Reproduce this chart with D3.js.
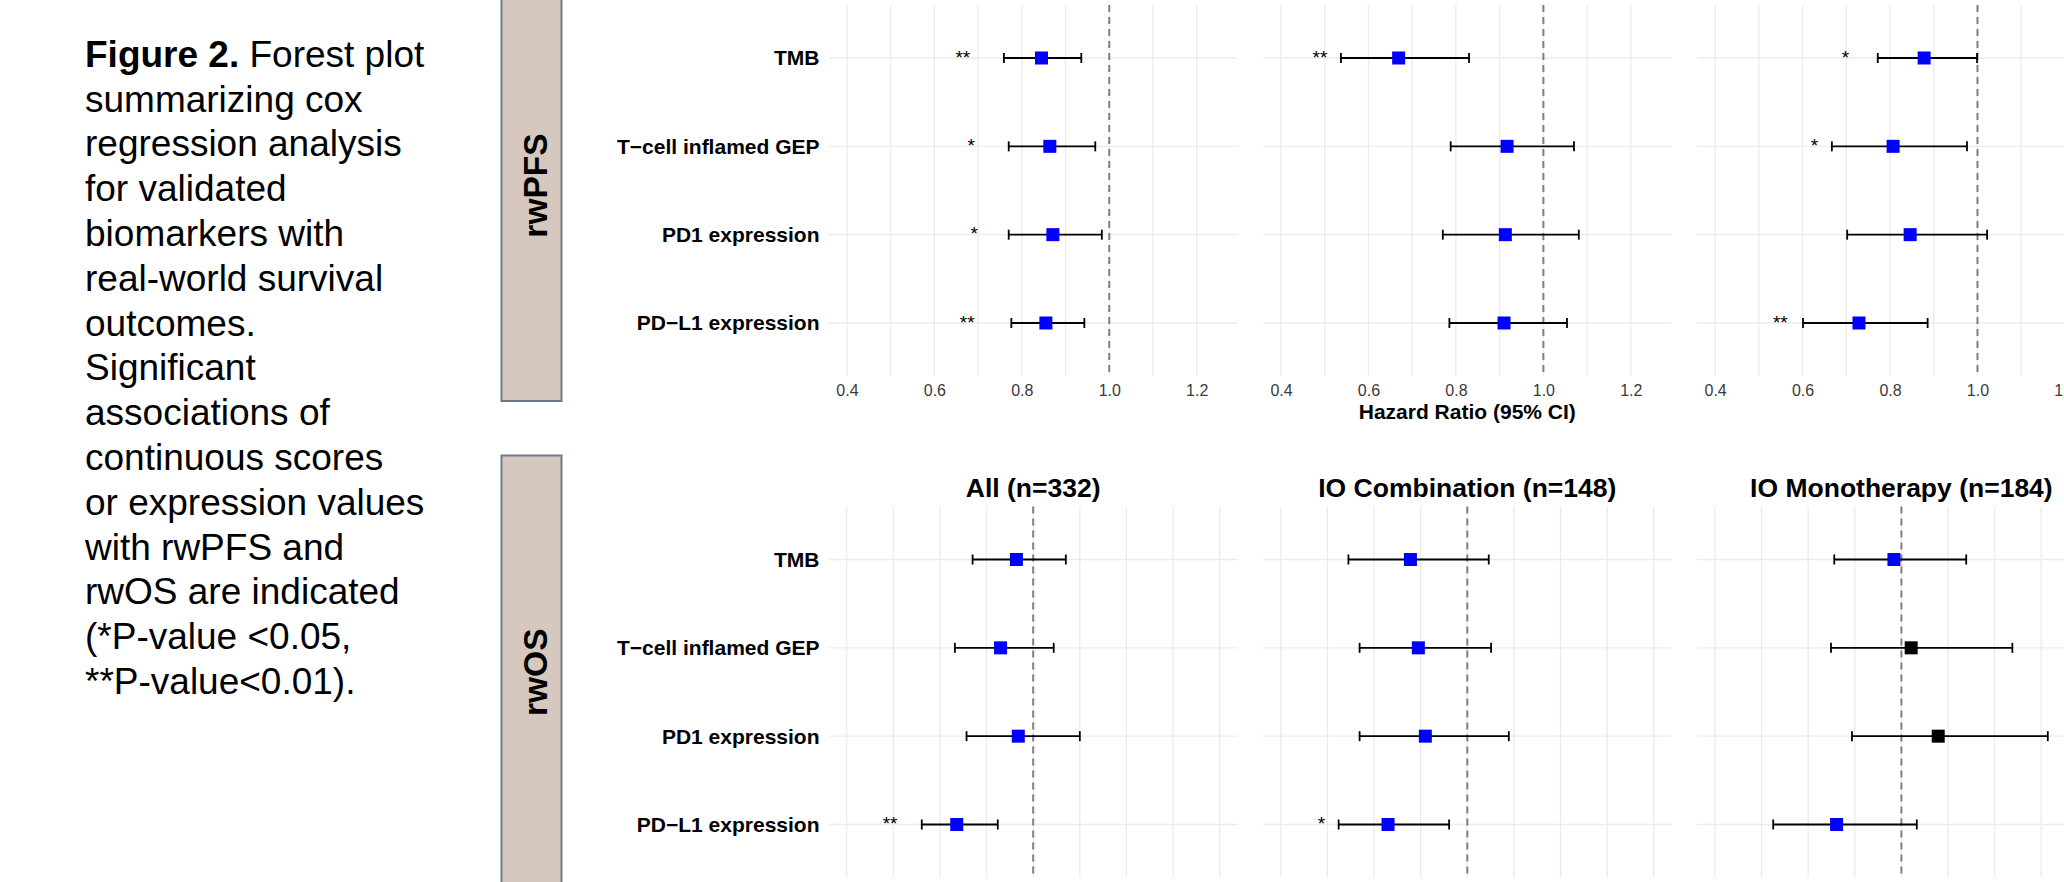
<!DOCTYPE html>
<html><head><meta charset="utf-8">
<script src="https://cdn.jsdelivr.net/npm/d3@7"></script>
<style>
html,body{margin:0;padding:0;background:#fff;}
svg{display:block;font-family:"Liberation Sans",Arial,Helvetica,sans-serif;}
</style></head><body>
<svg id="chart" width="2064" height="882"></svg>
<script>
// ---------------- data ----------------
const categories = ["TMB", "T\u2212cell inflamed GEP", "PD1 expression", "PD\u2212L1 expression"];
const panels = ["All (n=332)", "IO Combination (n=148)", "IO Monotherapy (n=184)"];
const outcomes = ["rwPFS", "rwOS"];
const xTickLabels = ["0.4", "0.6", "0.8", "1.0", "1.2"];
const xAxisTitle = "Hazard Ratio (95% CI)";

// rwPFS: [panel][category]
const pfsHR    = [[0.845, 0.864, 0.871, 0.855], [0.669, 0.917, 0.913, 0.910], [0.878, 0.807, 0.846, 0.729]];
const pfsLower = [[0.759, 0.770, 0.770, 0.776], [0.537, 0.788, 0.770, 0.785], [0.772, 0.667, 0.702, 0.601]];
const pfsUpper = [[0.936, 0.968, 0.983, 0.943], [0.830, 1.070, 1.081, 1.054], [0.999, 0.976, 1.022, 0.886]];
const pfsSig   = [["**", "*", "*", "**"], ["**", "", "", ""], ["*", "*", "", "**"]];

// rwOS: [panel][category]
const osHR    = [[0.964, 0.930, 0.968, 0.836], [0.878, 0.895, 0.910, 0.830], [0.984, 1.021, 1.079, 0.861]];
const osLower = [[0.870, 0.832, 0.857, 0.761], [0.745, 0.769, 0.769, 0.724], [0.856, 0.849, 0.894, 0.725]];
const osUpper = [[1.070, 1.044, 1.100, 0.924], [1.046, 1.051, 1.089, 0.961], [1.139, 1.238, 1.314, 1.033]];
const osSig   = [["", "", "", "**"], ["", "", "", "*"], ["", "", "", ""]];

const captionLines = [
  "summarizing cox", "regression analysis", "for validated", "biomarkers with",
  "real-world survival", "outcomes.", "Significant", "associations of",
  "continuous scores", "or expression values", "with rwPFS and",
  "rwOS are indicated", "(*P-value <0.05,", "**P-value<0.01)."
];

// ---------------- layout ----------------
const svg = d3.select("#chart");
const FONT = '"Liberation Sans", Arial, Helvetica, sans-serif';
const panelLeft0 = 829, panelPitch = 434.1, panelW = 408.4;
const rowsY = [[5, 376], [506.5, 877.5]];
const xDomains = [[0.359, 1.293], [0.562, 1.438]];
const starOffset = [0.18, 0.143];
const stripY = [[-30, 401], [455.5, 889]];

const groups = [
  {hr: pfsHR, lo: pfsLower, hi: pfsUpper, sig: pfsSig},
  {hr: osHR, lo: osLower, hi: osUpper, sig: osSig}
];

// caption
const cap = svg.append("text").attr("x", 85).attr("y", 66.7)
  .attr("font-size", 37).attr("fill", "#000").style("font-family", FONT);
cap.append("tspan").attr("font-weight", "bold").text("Figure 2.");
cap.append("tspan").text(" Forest plot");
captionLines.forEach((l, i) => {
  svg.append("text").attr("x", 85).attr("y", 66.7 + 44.8 * (i + 1))
    .attr("font-size", 37).attr("fill", "#000").style("font-family", FONT).text(l);
});

groups.forEach((g, gi) => {
  const [y0, y1] = rowsY[gi];
  const y = d3.scalePoint().domain(categories).range([y0, y1]).padding(0.6);

  // strip
  svg.append("rect").attr("x", 501.5).attr("y", stripY[gi][0])
    .attr("width", 60).attr("height", stripY[gi][1] - stripY[gi][0])
    .attr("fill", "#d6c8bf").attr("stroke", "#6d7a8c").attr("stroke-width", 2);
  const sc = (stripY[gi][0] + stripY[gi][1]) / 2;
  svg.append("text").attr("transform", `translate(546.5,${sc}) rotate(-90)`)
    .attr("text-anchor", "middle").attr("font-size", 33.5).attr("font-weight", "bold")
    .style("font-family", FONT).attr("fill", "#000").text(outcomes[gi]);

  // row labels
  categories.forEach(c => {
    svg.append("text").attr("x", 819.5).attr("y", y(c)).attr("dy", "0.35em")
      .attr("text-anchor", "end").attr("font-size", 21).attr("font-weight", "bold")
      .style("font-family", FONT).attr("fill", "#000").text(c);
  });

  panels.forEach((p, pi) => {
    const left = panelLeft0 + pi * panelPitch;
    const x = d3.scaleLinear().domain(xDomains[gi]).range([left, left + panelW]);
    const pg = svg.append("g");

    // grid
    pg.selectAll(".vg").data(x.ticks(10)).join("line")
      .attr("x1", d => x(d)).attr("x2", d => x(d)).attr("y1", y0).attr("y2", y1)
      .attr("stroke", "#ebebeb").attr("stroke-width", 1.3);
    pg.selectAll(".hg").data(categories).join("line")
      .attr("x1", left).attr("x2", left + panelW).attr("y1", d => y(d)).attr("y2", d => y(d))
      .attr("stroke", "#ebebeb").attr("stroke-width", 1.3);

    // reference line
    pg.append("line").attr("x1", x(1)).attr("x2", x(1)).attr("y1", y0).attr("y2", y1)
      .attr("stroke", "#7f7f7f").attr("stroke-width", 2).attr("stroke-dasharray", "7,5");

    const rows = categories.map((c, ci) => ({
      c, hr: g.hr[pi][ci], lo: g.lo[pi][ci], hi: g.hi[pi][ci], sig: g.sig[pi][ci]
    }));

    // error bars
    pg.selectAll(".eb").data(rows).join("line")
      .attr("x1", d => x(d.lo)).attr("x2", d => x(d.hi))
      .attr("y1", d => y(d.c)).attr("y2", d => y(d.c))
      .attr("stroke", "#000").attr("stroke-width", 1.8);
    ["lo", "hi"].forEach(k => {
      pg.selectAll(".cap" + k).data(rows).join("line")
        .attr("x1", d => x(d[k])).attr("x2", d => x(d[k]))
        .attr("y1", d => y(d.c) - 5).attr("y2", d => y(d.c) + 5)
        .attr("stroke", "#000").attr("stroke-width", 1.8);
    });

    // points
    pg.selectAll(".pt").data(rows).join("rect")
      .attr("x", d => x(d.hr) - 6.5).attr("y", d => y(d.c) - 6.5)
      .attr("width", 13).attr("height", 13)
      .attr("fill", d => d.hr < 1 ? "#0000ff" : "#000000");

    // significance
    pg.selectAll(".sg").data(rows.filter(d => d.sig)).join("text")
      .attr("x", d => x(d.hr - starOffset[gi])).attr("y", d => y(d.c) + 5.5)
      .attr("text-anchor", "middle").attr("font-size", 19)
      .style("font-family", FONT).attr("fill", "#000").text(d => d.sig);

    if (gi === 0) {
      const ax = pg.append("g").attr("transform", `translate(0,${y1})`)
        .call(d3.axisBottom(x).tickValues(xTickLabels.map(Number))
          .tickFormat((d, i) => xTickLabels[i]).tickSize(0).tickPadding(9));
      ax.select(".domain").remove();
      ax.selectAll("text").attr("font-size", 16).style("font-family", FONT).attr("fill", "#3a3a3a");
      if (pi === 1) {
        pg.append("text").attr("x", left + panelW / 2).attr("y", 419.3)
          .attr("text-anchor", "middle").attr("font-size", 21).attr("font-weight", "bold")
          .style("font-family", FONT).attr("fill", "#000").text(xAxisTitle);
      }
    } else {
      pg.append("text").attr("x", left + panelW / 2).attr("y", 496.5)
        .attr("text-anchor", "middle").attr("font-size", 26.5).attr("font-weight", "bold")
        .style("font-family", FONT).attr("fill", "#000").text(p);
    }
  });
});
</script>
</body></html>
